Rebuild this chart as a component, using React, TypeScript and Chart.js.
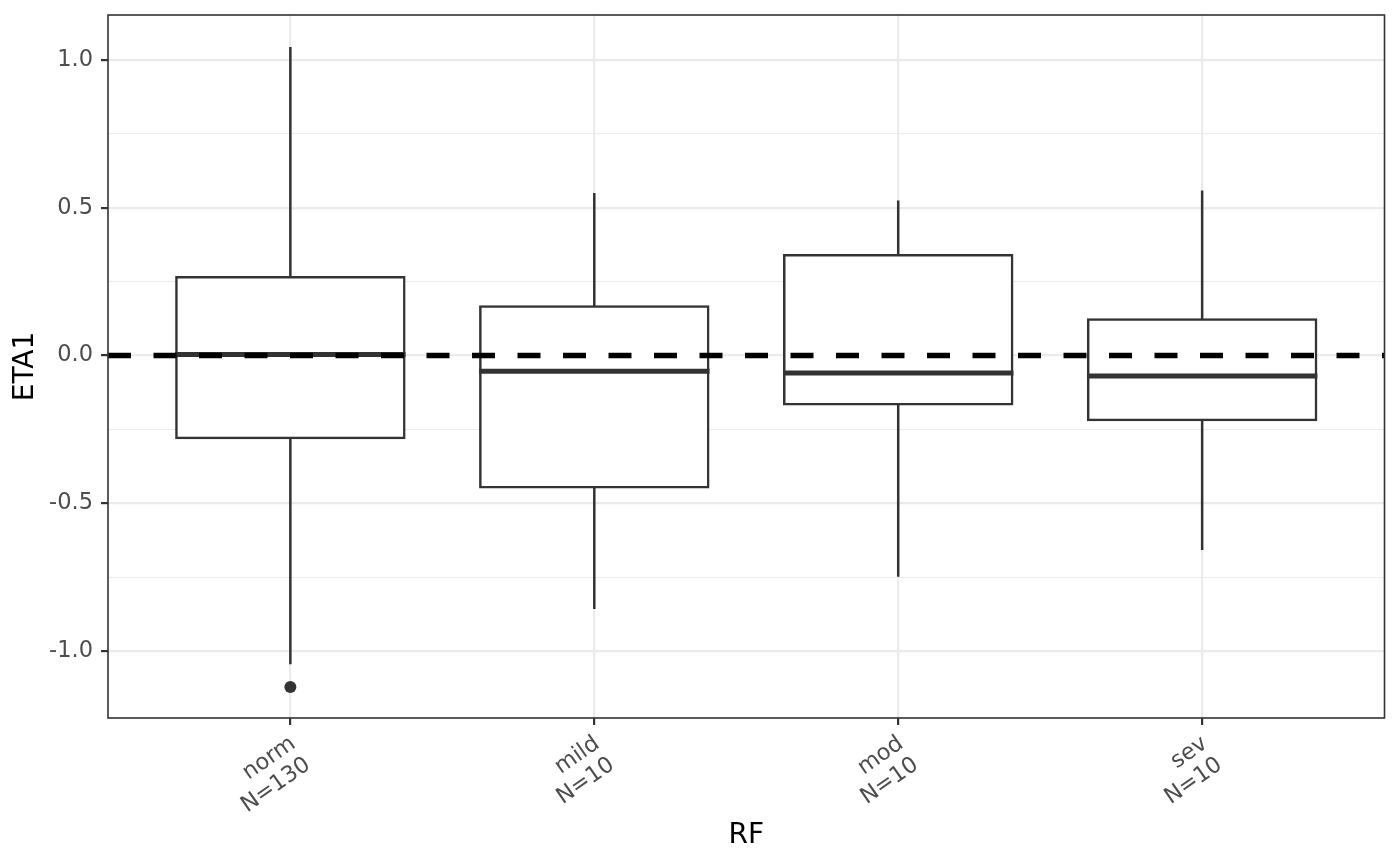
import React, { useEffect, useRef } from "react";
import { Chart, registerables } from "chart.js";

Chart.register(...registerables);

// ---- data ----
const categories = ["norm", "mild", "mod", "sev"];
const counts = [130, 10, 10, 10];
const whiskerLow = [-1.045, -0.858, -0.749, -0.658];
const q1 = [-0.279, -0.446, -0.165, -0.218];
const median = [0.004, -0.053, -0.059, -0.069];
const q3 = [0.265, 0.166, 0.34, 0.122];
const whiskerHigh = [1.045, 0.55, 0.525, 0.559];
const outlierGroup = [0];
const outlierValue = [-1.122];
const refLineValue = 0;
const yMajorTicks = [-1, -0.5, 0, 0.5, 1];
const yMinorTicks = [-0.75, -0.25, 0.25, 0.75];
const yMin = -1.227;
const yMax = 1.153;
const xTitle = "RF";
const yTitle = "ETA1";

const FONT = "DejaVu Sans";
const DARK = "#333333";

const boxPlugin = {
  id: "boxExtras",
  beforeDatasetsDraw(chart: any) {
    const { ctx, scales } = chart;
    const x = scales.x;
    const y = scales.y;
    ctx.save();
    ctx.strokeStyle = DARK;
    ctx.lineWidth = 2.5;
    ctx.lineCap = "butt";
    categories.forEach((_, i) => {
      const px = x.getPixelForValue(i + 1);
      ctx.beginPath();
      ctx.moveTo(px, y.getPixelForValue(whiskerHigh[i]));
      ctx.lineTo(px, y.getPixelForValue(q3[i]));
      ctx.moveTo(px, y.getPixelForValue(q1[i]));
      ctx.lineTo(px, y.getPixelForValue(whiskerLow[i]));
      ctx.stroke();
    });
    ctx.restore();
  },
  afterDatasetsDraw(chart: any) {
    const { ctx, scales, chartArea } = chart;
    const y = scales.y;
    const meta = chart.getDatasetMeta(0);
    ctx.save();
    // medians
    ctx.strokeStyle = DARK;
    ctx.lineWidth = 5;
    ctx.lineCap = "butt";
    meta.data.forEach((el: any, i: number) => {
      const { x: bx, width } = el.getProps(["x", "width"], true);
      const py = y.getPixelForValue(median[i]);
      ctx.beginPath();
      ctx.moveTo(bx - width / 2 - 1.25, py);
      ctx.lineTo(bx + width / 2 + 1.25, py);
      ctx.stroke();
    });
    // dashed reference line
    ctx.beginPath();
    ctx.rect(chartArea.left, chartArea.top, chartArea.right - chartArea.left, chartArea.bottom - chartArea.top);
    ctx.clip();
    const ry = y.getPixelForValue(refLineValue);
    ctx.strokeStyle = "#000000";
    ctx.lineWidth = 5.5;
    ctx.setLineDash([23, 22.5]);
    ctx.beginPath();
    ctx.moveTo(chartArea.left, ry);
    ctx.lineTo(chartArea.right, ry);
    ctx.stroke();
    ctx.restore();
    // panel border
    ctx.save();
    ctx.strokeStyle = DARK;
    ctx.lineWidth = 1.6;
    ctx.strokeRect(chartArea.left, chartArea.top, chartArea.right - chartArea.left, chartArea.bottom - chartArea.top);
    ctx.restore();
  },
};

export default function App() {
  const canvasRef = useRef<HTMLCanvasElement | null>(null);

  useEffect(() => {
    document.body.style.margin = "0";
    Chart.defaults.font.family = FONT;
    const canvas = canvasRef.current;
    if (!canvas) return;
    const isMajor = (v: number) => yMajorTicks.some((m) => Math.abs(m - v) < 1e-9);

    const chart = new Chart(canvas, {
      type: "bar",
      data: {
        datasets: [
          {
            type: "bar",
            data: categories.map((_, i) => ({ x: i + 1, y: [q1[i], q3[i]] })) as any,
            backgroundColor: "#FFFFFF",
            borderColor: DARK,
            borderWidth: 2.5,
            borderSkipped: false,
            inflateAmount: 1.25,
            barPercentage: 0.75,
            categoryPercentage: 1,
          } as any,
          {
            type: "scatter",
            data: outlierGroup.map((g, i) => ({ x: g + 1, y: outlierValue[i] })),
            backgroundColor: DARK,
            borderWidth: 0,
            pointRadius: 6,
          } as any,
        ],
      },
      options: {
        animation: false,
        responsive: true,
        maintainAspectRatio: false,
        layout: { padding: { top: 15, right: 15.5, left: 0, bottom: 0 } },
        plugins: { legend: { display: false }, tooltip: { enabled: false } },
        scales: {
          x: {
            type: "linear",
            min: 0.4,
            max: 4.6,
            offset: false,
            afterBuildTicks: (s: any) => {
              s.ticks = categories.map((_, i) => ({ value: i + 1 }));
            },
            afterFit: (s: any) => {
              s.height = 148;
              s.paddingLeft = 0;
              s.paddingRight = 0;
            },
            ticks: {
              autoSkip: false,
              minRotation: 35,
              maxRotation: 35,
              padding: 6,
              labelOffset: 3,
              color: "#4D4D4D",
              font: { family: FONT, size: 22.5, lineHeight: 1.15 },
              callback: (v: any) => {
                const i = Math.round(Number(v)) - 1;
                return [categories[i], "N=" + counts[i]];
              },
            },
            grid: {
              offset: false,
              color: "#EBEBEB",
              lineWidth: 2.2,
              tickColor: DARK,
              tickLength: 7,
              tickWidth: 2.2,
            },
            border: { display: false },
            title: {
              display: true,
              text: xTitle,
              color: "#000000",
              font: { family: FONT, size: 28 },
              padding: { top: 0, bottom: 13 },
            },
          },
          y: {
            type: "linear",
            min: yMin,
            max: yMax,
            afterBuildTicks: (s: any) => {
              s.ticks = [...yMajorTicks, ...yMinorTicks]
                .sort((a, b) => a - b)
                .map((v) => ({ value: v }));
            },
            afterFit: (s: any) => {
              s.width = 108;
              s.paddingTop = 0;
              s.paddingBottom = 0;
            },
            ticks: {
              autoSkip: false,
              padding: 8,
              color: "#4D4D4D",
              font: { family: FONT, size: 22.5 },
              callback: (v: any) => (isMajor(Number(v)) ? Number(v).toFixed(1) : ""),
            },
            grid: {
              color: "#EBEBEB",
              lineWidth: (c: any) => (c.tick && isMajor(c.tick.value) ? 2.2 : 1.1),
              tickColor: (c: any) => (c.tick && isMajor(c.tick.value) ? DARK : "rgba(0,0,0,0)"),
              tickLength: 7,
              tickWidth: 2.2,
            },
            border: { display: false },
            title: {
              display: true,
              text: yTitle,
              color: "#000000",
              font: { family: FONT, size: 28 },
              padding: { top: 8.5, bottom: 0 },
            },
          },
        },
      },
      plugins: [boxPlugin],
    } as any);

    return () => chart.destroy();
  }, []);

  return (
    <div style={{ position: "absolute", left: 0, top: 0, width: 1400, height: 866, background: "#FFFFFF" }}>
      <canvas ref={canvasRef} />
    </div>
  );
}
